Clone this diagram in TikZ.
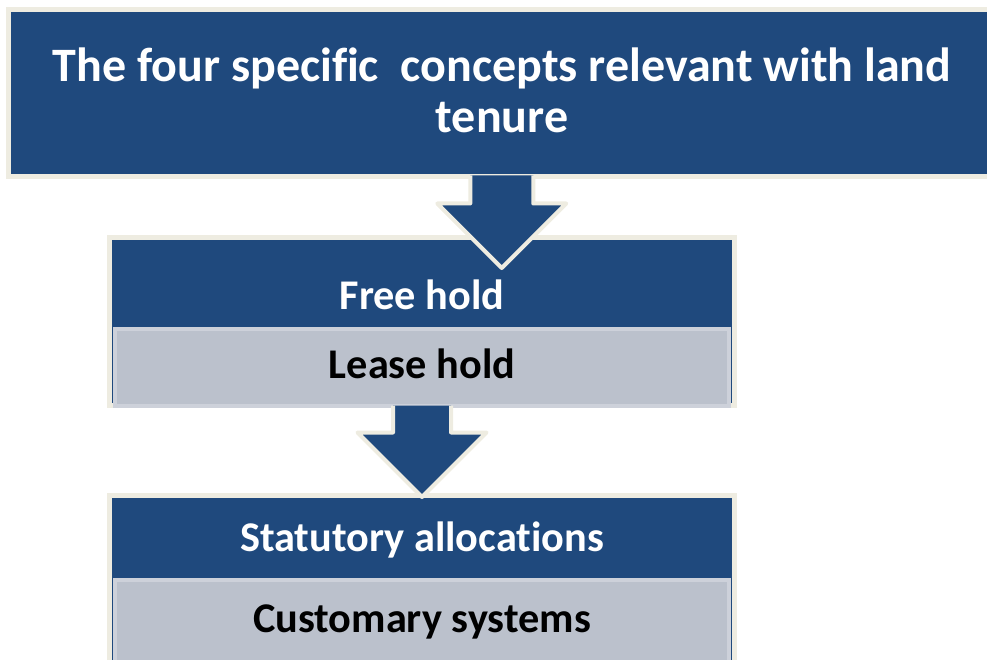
\documentclass[tikz,border=0pt]{standalone}
\usepackage{fontspec}
\setmainfont{Carlito}[Ligatures=NoCommon]
\usetikzlibrary{calc}
\definecolor{boxblue}{HTML}{1F497D}
\definecolor{edgebeige}{HTML}{EEECE1}
\definecolor{paleslate}{HTML}{BBC1CC}
\definecolor{paleedge}{HTML}{CDD1DA}
\tikzset{
  bluebox/.style={draw=edgebeige, line width=5pt, fill=boxblue, inner sep=0pt},
  palebox/.style={draw=paleedge, line width=4pt, fill=paleslate, inner sep=0pt,
    text height=22pt, text depth=0pt, font=\fontsize{42.3}{48}\selectfont\bfseries},
  whitetext/.style={text=white, inner sep=0pt, font=\fontsize{42.3}{48}\selectfont\bfseries},
  bigarrow/.style={fill=boxblue, draw=edgebeige, line width=4pt, line join=round},
}

\begin{document}
\begin{tikzpicture}[x=1pt,y=-1pt]
  \useasboundingbox (0,0) rectangle (987,660);
  % heading
  \node[bluebox, minimum width=986.5pt, minimum height=167.5pt] (top) at (501.75,93.25) {};
  \node[text=white, align=center, inner sep=0pt,
        font=\fontsize{48}{51}\selectfont\bfseries] (title) at (502,90)
    {The four specific\ \ concepts relevant with land\\tenure};
  % first pair
  \node[bluebox, minimum width=625pt, minimum height=168pt] (freehold) at (422,321.5) {};
  \node[whitetext, anchor=base] (freeholdtext) at (422,309) {Free hold};
  \node[palebox, minimum width=614pt, minimum height=77pt] (leasehold) at (422,367) {Lease hold};
  \path[bigarrow] ($(top.south)+(-31.5,-4)$) -- ($(top.south)+(-31.5,24)$)
    -- ($(top.south)+(-64.5,24)$) -- ($(top.south)+(0,88.5)$)
    -- ($(top.south)+(64.5,24)$) -- ($(top.south)+(31.5,24)$)
    -- ($(top.south)+(31.5,-4)$);
  % second pair
  \node[bluebox, minimum width=625pt, minimum height=204.5pt] (statutory) at (422,597.75) {};
  \node[whitetext, anchor=base] (statutorytext) at (422,551) {Statutory allocations};
  \node[palebox, minimum width=614pt, minimum height=82pt] (customary) at (422,621) {Customary systems};
  \path[bigarrow] ($(leasehold.south)+(-29,-2)$) -- ($(leasehold.south)+(-29,25)$)
    -- ($(leasehold.south)+(-64.5,25)$) -- ($(leasehold.south)+(0,89.5)$)
    -- ($(leasehold.south)+(64.5,25)$) -- ($(leasehold.south)+(29,25)$)
    -- ($(leasehold.south)+(29,-2)$);
\end{tikzpicture}
\end{document}
